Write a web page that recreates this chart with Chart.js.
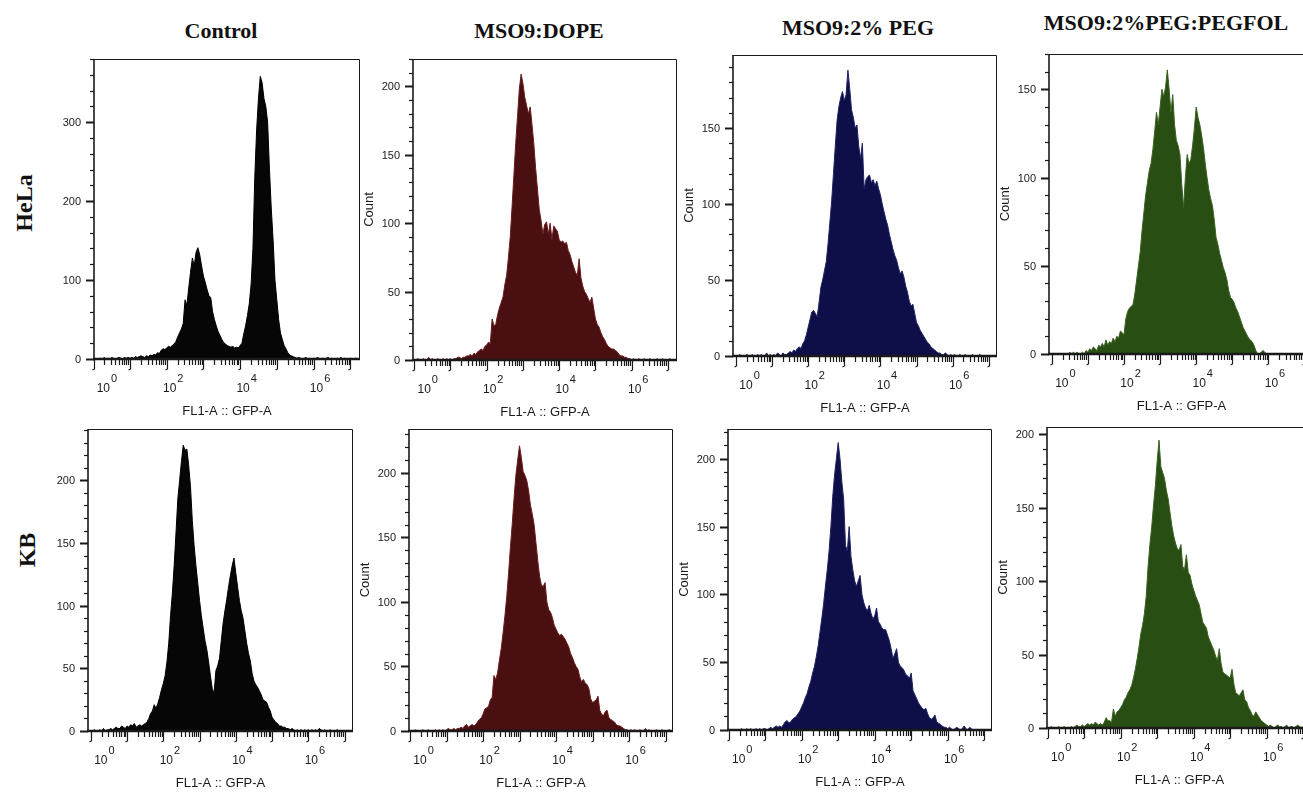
<!DOCTYPE html>
<html>
<head>
<meta charset="utf-8">
<script src="https://cdn.jsdelivr.net/npm/chart.js@4.4.1/dist/chart.umd.min.js"></script>
<style>
  body { margin: 0; background: #fff; width: 1303px; height: 792px; overflow: hidden; position: relative; }
  canvas { position: absolute; }
  .title { position: absolute; transform: translate(-50%, -50%); white-space: nowrap;
           font: bold 22px "Liberation Serif", "Times New Roman", serif; color: #111; }
  .row { position: absolute; transform: translate(-50%, -50%) rotate(-90deg); white-space: nowrap;
         font: bold 24px "Liberation Serif", "Times New Roman", serif; color: #111; }
</style>
</head>
<body>
<script>
// column / row headings
const groups = ['Control', 'MSO9:DOPE', 'MSO9:2% PEG', 'MSO9:2%PEG:PEGFOL'];
const cellLines = ['HeLa', 'KB'];

// axis labelling
const decadeLabels = [0, 2, 4, 6];
const xTitle = 'FL1-A :: GFP-A';
const yTitle = 'Count';

// histogram channels: one bin every 0.05 decade starting at 10^0
const binStep = 0.05;

// GFP histograms (counts per bin), HeLa row
const helaControl = [
  0,1,0,0,1,0,2,0,1,0, 2,1,0,1,2,1,0,2,1,2,
  1,2,1,3,2,3,4,3,2,4, 3,5,4,6,5,8,7,11,13,12,
  14,16,15,17,19,22,28,33,38,45, 75,68,90,110,128,118,135,141,132,118,
  105,97,88,80,78,60,50,42,35,30, 25,21,19,17,16,15,16,14,15,14,
  17,20,32,42,55,70,95,140,230,290, 330,358,350,330,320,300,240,190,150,100,
  75,50,33,25,17,13,8,5,4,3, 2,1,2,1,0,1,2,0,1,0,
  1,0,2,1,0,1,0,1,2,0, 1,0,0,1,0,2,0,1,0,0,
  1,0,0,1,0,0
];
const helaDope = [
  0,0,1,0,0,1,0,0,2,0, 1,0,0,1,0,0,1,0,1,0,
  1,0,1,1,2,2,1,2,2,3, 3,4,3,5,4,6,7,8,7,10,
  11,13,12,30,25,26,33,38,42,46, 55,62,75,90,112,135,158,178,198,209,
  202,192,186,180,185,172,158,140,125,110, 102,92,99,101,92,100,88,98,96,94,
  88,86,87,85,86,80,77,72,68,64, 62,74,60,54,50,48,45,42,46,38,
  30,26,24,20,17,15,12,10,9,8, 8,7,6,4,3,3,2,2,1,1,
  0,1,0,0,1,0,0,1,0,0, 1,0,0,0,1,0,0,1,0,0,
  0,1,0,0,0,0
];
const helaPeg = [
  0,0,1,0,0,0,1,0,0,1, 0,0,1,0,1,0,0,2,0,1,
  0,1,0,2,1,0,2,1,1,2, 3,2,4,3,5,6,5,8,10,14,
  19,24,29,30,28,26,35,45,50,56, 62,74,88,102,120,138,155,164,170,174,
  168,172,188,176,162,157,150,152,138,130, 140,110,116,118,119,114,116,112,115,110,
  106,100,95,90,86,80,75,70,66,63, 58,54,56,52,46,42,36,33,34,28,
  22,20,17,15,13,11,9,8,6,5, 4,3,2,2,1,1,2,1,0,1,
  0,1,0,0,1,0,0,1,0,0, 0,1,0,0,0,1,0,0,0,0,
  0,0,0,0,0,0
];
const helaPegfol = [
  0,0,0,0,0,0,0,0,0,0, 1,0,1,0,1,0,0,1,0,2,
  1,3,2,4,3,2,5,4,6,4, 8,5,7,6,9,7,10,9,13,12,
  11,20,24,26,27,28,34,42,50,58, 70,80,90,97,104,108,116,126,137,130,
  140,150,146,151,161,150,137,147,130,121, 118,113,96,83,100,113,108,110,118,128,
  140,134,130,124,117,108,100,93,88,84, 76,66,62,57,53,49,46,42,36,32,
  31,29,26,24,21,18,15,13,11,9, 8,7,5,2,0,0,1,2,1,0,
  0,0,0,0,0,0,0,0,0,0, 0,0,0,0,0,0,0,0,0,0,
  0,0,0,0,0,0
];

// GFP histograms (counts per bin), KB row
const kbControl = [
  0,0,1,0,0,1,0,2,0,1, 1,2,1,2,3,2,2,4,3,2,
  4,3,5,4,6,3,4,5,4,5, 6,7,10,14,16,21,18,22,27,33,
  38,44,55,70,92,110,132,158,185,200, 215,228,224,225,212,195,168,148,132,118,
  104,92,82,72,65,55,44,34,30,48, 52,58,72,86,96,105,115,124,132,138,
  126,115,104,96,90,80,70,62,56,46, 40,37,35,32,29,25,24,23,19,16,
  11,9,7,6,4,4,3,3,2,2, 1,2,1,0,1,0,1,0,1,0,
  1,0,1,0,1,0,2,1,0,1, 0,0,1,0,0,0,1,0,0,0,
  0,0,0,0,0,0
];
const kbDope = [
  0,0,0,1,0,0,0,1,0,0, 1,0,0,0,1,0,1,0,1,0,
  1,2,1,1,2,1,2,2,3,2, 4,5,3,4,5,4,5,7,9,10,
  13,17,18,19,24,26,43,40,45,55, 64,76,89,104,122,142,160,180,198,210,
  221,212,201,198,194,186,175,168,160,146, 132,120,113,112,115,100,94,92,88,82,
  79,76,74,75,73,71,68,65,60,57, 53,50,48,42,38,40,37,36,33,25,
  22,23,24,27,16,13,12,15,16,10, 9,8,7,5,4,4,3,2,1,1,
  0,1,0,1,0,0,1,0,0,2, 0,1,0,0,0,1,0,0,1,0,
  0,0,1,0,0,0
];
const kbPeg = [
  0,0,0,0,0,0,0,1,0,0, 1,0,1,0,0,1,0,1,0,1,
  1,0,1,2,1,2,3,2,3,2, 4,6,7,5,6,8,9,10,12,14,
  17,20,24,27,32,36,42,47,54,62, 72,82,93,106,118,132,150,172,188,200,
  212,200,183,170,136,132,150,128,118,110, 106,110,114,100,94,90,88,92,86,82,
  84,90,80,78,75,74,74,70,66,60, 53,56,60,50,47,46,44,41,40,38,
  42,29,26,23,20,18,16,15,16,12, 9,8,9,11,6,5,4,3,2,2,
  1,2,1,0,1,2,1,0,1,3, 1,0,2,1,0,0,0,0,0,0,
  0,0,0,0,0,0
];
const kbPegfol = [
  0,0,1,0,0,0,1,0,0,1, 0,0,0,1,0,1,2,1,1,2,
  1,2,3,2,3,2,4,3,2,3, 2,4,7,5,5,4,13,8,11,12,
  14,16,19,21,24,26,29,34,40,47, 55,64,70,78,90,110,125,137,152,165,
  182,196,178,174,170,162,156,147,138,131, 126,122,121,125,110,108,118,106,104,98,
  94,90,87,84,78,72,70,68,62,59, 56,53,49,46,54,44,38,37,36,35,
  34,40,30,24,23,22,24,26,19,18, 14,12,9,8,11,9,7,5,4,3,
  2,1,2,1,0,1,2,1,1,0, 1,2,0,1,1,0,1,2,1,0,
  1,0,1,0,0,0
];

// fill colours per treatment
const fills = ['#060606', '#4a0f10', '#0e0e48', '#294e13'];
const edges = ['#000000', '#6a1a1c', '#20235f', '#3a6121'];

// plot boxes (page pixels), 10^0 position and decade width, y range
const panels = [
  { counts: helaControl, col: 0, l: 94,   t: 59,  r: 360,  b: 359, zero: 93.3,   dec: 36.7,  ymax: 380, step: 100, minor: 20, count: false },
  { counts: helaDope,    col: 1, l: 413,  t: 59,  r: 677,  b: 360, zero: 414.2,  dec: 36.25, ymax: 220, step: 50,  minor: 10, count: true },
  { counts: helaPeg,     col: 2, l: 733,  t: 55,  r: 997,  b: 356, zero: 736,    dec: 36.1,  ymax: 198, step: 50,  minor: 10, count: true },
  { counts: helaPegfol,  col: 3, l: 1049, t: 54,  r: 1314, b: 354, zero: 1051.8, dec: 36.1,  ymax: 170, step: 50,  minor: 10, count: true },
  { counts: kbControl,   col: 0, l: 88,   t: 429, r: 353,  b: 731, zero: 90.8,   dec: 36.25, ymax: 241, step: 50,  minor: 10, count: false },
  { counts: kbDope,      col: 1, l: 409,  t: 429, r: 673,  b: 731, zero: 410,    dec: 36.5,  ymax: 234, step: 50,  minor: 10, count: true },
  { counts: kbPeg,       col: 2, l: 728,  t: 429, r: 992,  b: 730, zero: 728.7,  dec: 36.5,  ymax: 222, step: 50,  minor: 10, count: true },
  { counts: kbPegfol,    col: 3, l: 1047, t: 427, r: 1312, b: 728, zero: 1047.7, dec: 36.5,  ymax: 205, step: 50,  minor: 10, count: true }
];

const titlePos = [[221, 31], [539, 31], [858, 28], [1166, 23]];
const rowPos = [[24, 203], [27, 550]];

const sans = '"Liberation Sans", Arial, sans-serif';

// FlowJo-style frame, log decade ticks with superscript labels, count ticks
const flowAxes = {
  id: 'flowAxes',
  afterDatasetsDraw(chart, args, o) {
    const { ctx, chartArea: a, scales: { x, y } } = chart;
    const ink = '#1a1a1a';
    ctx.save();
    ctx.strokeStyle = ink;
    ctx.fillStyle = ink;

    // thin top and right border
    ctx.lineWidth = 1;
    ctx.beginPath();
    ctx.moveTo(a.left, a.top + 0.5);
    ctx.lineTo(a.right - 0.5, a.top + 0.5);
    ctx.lineTo(a.right - 0.5, a.bottom);
    ctx.stroke();

    // left axis
    ctx.lineWidth = 1.6;
    ctx.beginPath();
    ctx.moveTo(a.left, a.top);
    ctx.lineTo(a.left, a.bottom);
    ctx.stroke();

    // count ticks
    ctx.font = '11px ' + sans;
    ctx.textAlign = 'right';
    ctx.textBaseline = 'middle';
    for (let v = 0; v <= o.ymax; v += o.minor) {
      const py = Math.round(y.getPixelForValue(v)) + 0.5;
      const major = v % o.step === 0;
      ctx.lineWidth = major ? 2 : 1.2;
      ctx.beginPath();
      ctx.moveTo(a.left - (major ? 8 : 4), py);
      ctx.lineTo(a.left, py);
      ctx.stroke();
      if (major) ctx.fillText(String(v), a.left - 13, py);
    }

    // bottom axis
    ctx.lineWidth = 2.5;
    ctx.beginPath();
    ctx.moveTo(a.left - 1, a.bottom);
    ctx.lineTo(a.right, a.bottom);
    ctx.stroke();

    // decade and sub-decade ticks
    const lo = Math.log10(x.min) - 0.1;
    ctx.lineWidth = 1.2;
    for (let e = 0; e <= 7; e++) {
      for (let k = 1; k <= 9; k++) {
        const v = k * Math.pow(10, e);
        if (Math.log10(v) < lo || v > x.max) continue;
        const px = Math.max(a.left, Math.round(x.getPixelForValue(v))) + 0.5;
        ctx.beginPath();
        if (k === 1) {
          ctx.moveTo(px, a.bottom);
          ctx.lineTo(px, a.bottom + 10);
          ctx.lineTo(px - 2, a.bottom + 11);
        } else {
          ctx.moveTo(px, a.bottom);
          ctx.lineTo(px, a.bottom + 6);
        }
        ctx.stroke();
      }
    }

    // 10^n labels
    decadeLabels.forEach(e => {
      const px = x.getPixelForValue(Math.pow(10, e)) + (e === 0 ? 10 : 3);
      ctx.font = '12px ' + sans;
      ctx.textAlign = 'center';
      ctx.fillText('10', px, a.bottom + 30);
      const w = ctx.measureText('10').width;
      ctx.font = '11px ' + sans;
      ctx.textAlign = 'left';
      ctx.fillText(String(e), px + w / 2 + 1, a.bottom + 20);
    });

    // axis titles
    ctx.font = '13px ' + sans;
    ctx.textAlign = 'center';
    ctx.fillText(xTitle, (a.left + a.right) / 2, a.bottom + 52);
    if (o.count) {
      ctx.translate(a.left - 44, (a.top + a.bottom) / 2);
      ctx.rotate(-Math.PI / 2);
      ctx.fillText(yTitle, 0, 0);
    }
    ctx.restore();
  }
};

// headings
groups.forEach((g, i) => {
  const d = document.createElement('div');
  d.className = 'title';
  d.textContent = g;
  d.style.left = titlePos[i][0] + 'px';
  d.style.top = titlePos[i][1] + 'px';
  document.body.appendChild(d);
});
cellLines.forEach((c, i) => {
  const d = document.createElement('div');
  d.className = 'row';
  d.textContent = c;
  d.style.left = rowPos[i][0] + 'px';
  d.style.top = rowPos[i][1] + 'px';
  document.body.appendChild(d);
});

// one canvas per histogram
const pad = { left: 60, top: 12, right: 12, bottom: 70 };
panels.forEach(p => {
  const cv = document.createElement('canvas');
  const w = p.r - p.l + pad.left + pad.right;
  const h = p.b - p.t + pad.top + pad.bottom;
  cv.width = w;
  cv.height = h;
  cv.style.left = (p.l - pad.left) + 'px';
  cv.style.top = (p.t - pad.top) + 'px';
  cv.style.width = w + 'px';
  cv.style.height = h + 'px';
  document.body.appendChild(cv);

  new Chart(cv, {
    type: 'line',
    data: {
      datasets: [{
        data: p.counts.map((c, i) => ({ x: Math.pow(10, i * binStep), y: c })),
        borderColor: edges[p.col],
        backgroundColor: fills[p.col],
        borderWidth: 1,
        pointRadius: 0,
        tension: 0,
        fill: 'origin'
      }]
    },
    options: {
      responsive: false,
      animation: false,
      devicePixelRatio: 1,
      layout: { padding: pad },
      scales: {
        x: { type: 'logarithmic', display: false,
             min: Math.pow(10, (p.l - p.zero) / p.dec),
             max: Math.pow(10, (p.r - p.zero) / p.dec) },
        y: { type: 'linear', display: false, min: 0, max: p.ymax }
      },
      plugins: {
        legend: { display: false },
        tooltip: { enabled: false },
        flowAxes: { ymax: p.ymax, step: p.step, minor: p.minor, count: p.count }
      }
    },
    plugins: [flowAxes]
  });
});
</script>
</body>
</html>
